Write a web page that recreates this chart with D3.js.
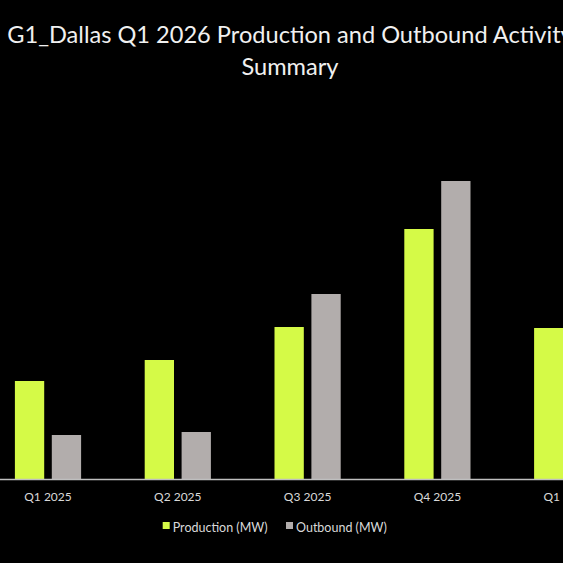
<!DOCTYPE html>
<html>
<head>
<meta charset="utf-8">
<script src="https://cdn.jsdelivr.net/npm/d3@7"></script>
<style>
  html, body { margin: 0; padding: 0; background: #000; overflow: hidden; }
  svg { display: block; }
</style>
</head>
<body>
<div id="chart"></div>
<script>
// Data (MW)
const categories = ["Q1 2025", "Q2 2025", "Q3 2025", "Q4 2025", "Q1 2026"];
const production = [9.8, 11.9, 15.2, 25.0, 15.1];
const outbound = [4.4, 4.7, 18.5, 29.8, 12.0];
const seriesNames = ["Production (MW)", "Outbound (MW)"];
const seriesColors = ["#d5fa47", "#b2adac"];
const titleLines = ["G1_Dallas Q1 2026 Production and Outbound Activity", "Summary"];

const W = 563, H = 563;
const baseY = 479;

const svg = d3.select("#chart")
    .append("svg")
    .attr("width", W)
    .attr("height", H);

svg.append("rect")
    .attr("width", W)
    .attr("height", H)
    .attr("fill", "#000");

// Title (first line runs past the right edge, as in the source)
svg.append("text")
    .attr("x", 290)
    .attr("y", 43)
    .attr("text-anchor", "middle")
    .attr("fill", "#f0f0f0")
    .style("font-family", "Lato, 'Open Sans', sans-serif")
    .style("font-size", "23.6px")
    .selectAll("tspan")
    .data(titleLines)
    .enter().append("tspan")
    .attr("x", 290)
    .attr("dy", (d, i) => i === 0 ? 0 : 32)
    .text(d => d);

// Scales (the chart is wider than the window, so it runs off both sides)
const x0 = d3.scaleBand()
    .domain(categories)
    .range([-16.9, 632.1]);

const x1 = d3.scaleBand()
    .domain(seriesNames)
    .range([31.8, 98])
    .paddingInner(0.206);

const y = d3.scaleLinear()
    .domain([0, 35])
    .range([baseY, baseY - 350]);

const color = d3.scaleOrdinal()
    .domain(seriesNames)
    .range(seriesColors);

const rows = categories.map((c, i) => ({
    category: c,
    values: [
        { series: seriesNames[0], value: production[i] },
        { series: seriesNames[1], value: outbound[i] }
    ]
}));

// Bars
const groups = svg.selectAll(".group")
    .data(rows)
    .enter().append("g")
    .attr("class", "group")
    .attr("transform", d => `translate(${x0(d.category)},0)`);

groups.selectAll("rect")
    .data(d => d.values)
    .enter().append("rect")
    .attr("x", d => x1(d.series))
    .attr("y", d => y(d.value))
    .attr("width", x1.bandwidth())
    .attr("height", d => y(0) - y(d.value))
    .attr("fill", d => color(d.series));

// X axis
const xAxis = svg.append("g")
    .attr("transform", `translate(0,${baseY})`)
    .call(d3.axisBottom(x0).tickSize(0).tickSizeOuter(0).tickPadding(13));

xAxis.select(".domain")
    .attr("stroke", "#bfbfbf")
    .attr("stroke-width", 1.3);

xAxis.selectAll("text")
    .attr("fill", "#d9d9d9")
    .style("font-family", "Lato, 'Open Sans', sans-serif")
    .style("font-size", "12px");

// Legend
const legendX = [162.7, 286];
const legend = svg.selectAll(".legend-entry")
    .data(seriesNames)
    .enter().append("g")
    .attr("class", "legend-entry")
    .attr("transform", (d, i) => `translate(${legendX[i]},522)`);

legend.append("rect")
    .attr("width", 7)
    .attr("height", 7)
    .attr("fill", d => color(d));

legend.append("text")
    .attr("x", 10)
    .attr("y", 9.5)
    .attr("fill", "#d9d9d9")
    .style("font-family", "Lato, 'Open Sans', sans-serif")
    .style("font-size", "12.5px")
    .text(d => d);
</script>
</body>
</html>
